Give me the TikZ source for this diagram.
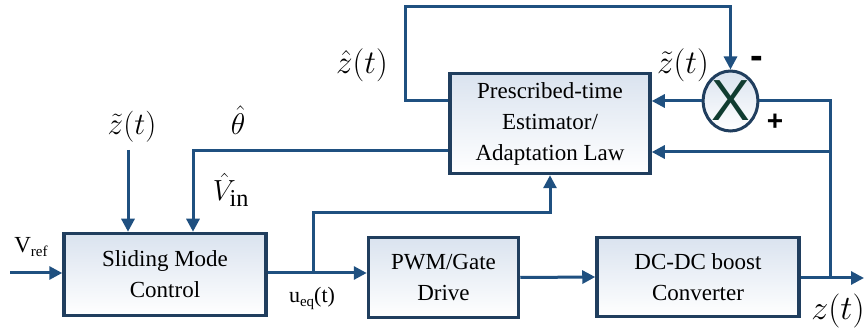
\documentclass[tikz,border=0pt]{standalone}
\usepackage{fontspec}
\setmainfont{Liberation Serif}
\newfontfamily\arialf{Liberation Sans}
\usetikzlibrary{arrows.meta,shapes.geometric}
\definecolor{linec}{RGB}{31,80,128}
\definecolor{boxc}{RGB}{32,62,94}
\definecolor{boxtop}{RGB}{218,227,239}
\definecolor{xgreen}{RGB}{16,60,48}
\tikzset{
  blk/.style={draw=boxc, line width=3.5pt, top color=boxtop, bottom color=white,
    align=center, inner sep=0pt, font=\fontsize{23}{31}\selectfont},
  conn/.style={draw=linec, line width=3pt, line join=miter},
  arr/.style={conn, -{Triangle[length=13pt,width=13pt]}},
  mlab/.style={font=\fontsize{24.88}{25}\selectfont, inner sep=0pt},
  sign/.style={font=\arialf\bfseries\fontsize{28}{28}\selectfont, inner sep=0pt}
}
\begin{document}
\begin{tikzpicture}[x=1pt,y=-1pt]
\useasboundingbox (0,0) rectangle (864,336);
% blocks
\node[blk, minimum width=202pt, minimum height=82pt] (smc) at (165,274.5) {Sliding Mode\\Control};
\node[blk, minimum width=150pt, minimum height=80pt] (pwm) at (443.5,277.5) {PWM/Gate\\Drive};
\node[blk, minimum width=202pt, minimum height=79pt] (dc) at (698,277) {DC-DC boost\\Converter};
\node[blk, minimum width=200pt, minimum height=100pt] (est) at (550,123.5) {Prescribed-time\\Estimator/\\Adaptation Law};
\node[ellipse, draw=boxc, line width=3pt, top color=boxtop, bottom color=white,
  minimum width=52pt, minimum height=60pt, inner sep=0pt,
  font=\arialf\fontsize{58}{58}\selectfont, text=xgreen] (sum) at (730.5,101) {X};
% coordinates
\coordinate (vin) at (10,273);
\coordinate (br) at (313,273);
\coordinate (uup) at (313,213);
\coordinate (out) at (864,278);
\coordinate (zb) at (830,278);
\coordinate (zc) at (830,152);
\coordinate (tl) at (405,7);
\coordinate (th) at (193,151);
\coordinate (zt) at (128,150);
% connectors
\draw[arr] (vin) -- (vin -| smc.west);
\draw[arr] (smc.east |- br) -- (pwm.west |- br);
\draw[arr] (br) -- (uup) -| (est.south);
\draw[arr] (pwm.east) -- (dc.west);
\draw[arr] (dc.east |- out) -- (out);
\draw[conn] (zb) -- (zb |- sum.east) -- (sum.east);
\draw[arr] (zc) -- (est.east |- zc);
\draw[arr] (sum.west) -- (est.east |- sum.west);
\draw[arr] (est.west |- sum) -| (tl) -| (sum.north);
\draw[arr] (est.west |- th) -- (th) -- (th |- smc.north);
\draw[arr] (zt) -- (zt |- smc.north);
% labels
\node[mlab] (lzh) at (362,65) {\scalebox{1.33}{$\hat{z}(t)$}};
\node[mlab] (lzt1) at (683,65) {\scalebox{1.33}{$\tilde{z}(t)$}};
\node[mlab] (lzt2) at (132,127) {\scalebox{1.25}{$\tilde{z}(t)$}};
\node[mlab] (lth) at (238,120) {\scalebox{1.2}{$\hat{\theta}$}};
\node[mlab] (lvin) at (231,190) {\scalebox{1.17}{$\hat{V}_{\mathrm{in}}$}};
\node[mlab] (lz) at (838,311) {\scalebox{1.37}{$z(t)$}};
\node[inner sep=0pt, font=\fontsize{23}{23}\selectfont] (lvref) at (31,247) {V{\fontsize{15}{15}\selectfont\raisebox{-4pt}{ref}}};
\node[inner sep=0pt, font=\fontsize{22}{22}\selectfont] (lueq) at (312,298) {u{\fontsize{15}{15}\selectfont\raisebox{-4pt}{eq}}(t)};
\node[sign, font=\arialf\bfseries\fontsize{38}{38}\selectfont] (lminus) at (757,62) {-};
\node[sign] (lplus) at (775,122) {+};
\end{tikzpicture}
\end{document}
